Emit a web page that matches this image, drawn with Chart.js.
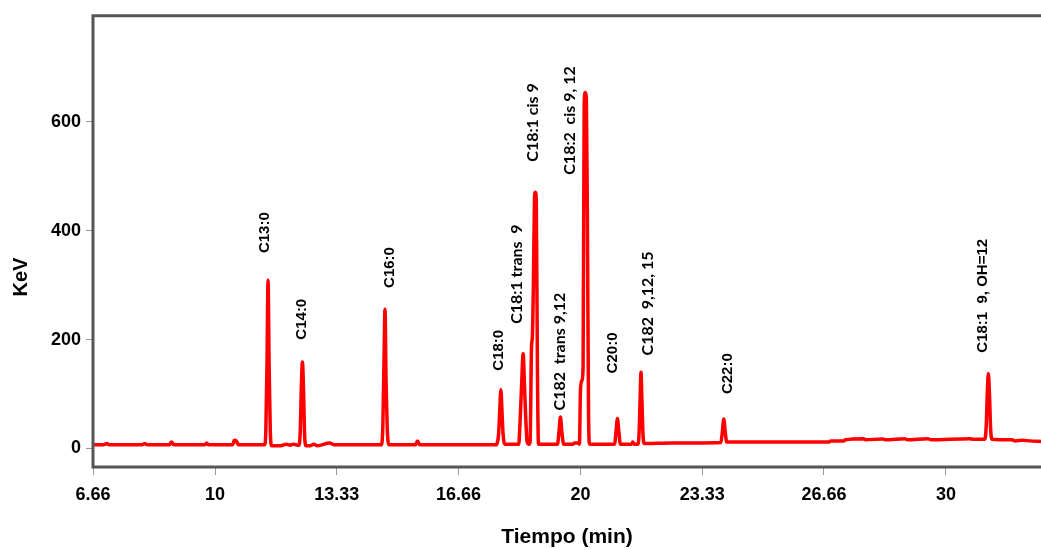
<!DOCTYPE html>
<html>
<head>
<meta charset="utf-8">
<title>Cromatograma</title>
<script src="https://cdn.jsdelivr.net/npm/chart.js@4/dist/chart.umd.min.js"></script>
<style>
    body { margin: 0; background: #fff; }
    #wrap { width: 1041px; height: 550px; }
</style>
</head>
<body>
<div id="wrap"><canvas id="cromatograma"></canvas></div>
<script>
// Retention time (min) and detector signal (KeV)
const tiempo = [
    6.66, 6.95, 7.04, 7.10, 8.00, 8.08, 8.14, 8.75, 8.81, 8.87,
    9.72, 9.77, 9.82, 10.48, 10.53, 10.58, 10.64,
    11.36, 11.39, 11.42, 11.45, 11.48, 11.51, 11.55,
    11.80, 11.95, 12.05, 12.15, 12.25,
    12.29, 12.33, 12.36, 12.39, 12.42, 12.45, 12.49,
    12.60, 12.70, 12.80, 13.14, 13.25, 14.50,
    14.55, 14.59, 14.62, 14.65, 14.68, 14.71, 14.75,
    15.48, 15.54, 15.60, 17.70,
    17.71, 17.76, 17.79, 17.82, 17.85, 17.88, 17.93,
    18.31, 18.34, 18.39, 18.43, 18.47, 18.50, 18.54, 18.59,
    18.62, 18.66, 18.68, 18.71, 18.74, 18.765, 18.79, 18.82, 18.85,
    19.37, 19.41, 19.45, 19.49, 19.54,
    19.80, 19.83, 19.93,
    19.97, 20.00, 20.04, 20.07, 20.10, 20.13, 20.16, 20.19, 20.22, 20.25,
    20.93, 20.97, 21.01, 21.05, 21.09,
    21.40, 21.43, 21.47,
    21.57, 21.60, 21.63, 21.655, 21.68, 21.71, 21.75,
    22.50, 23.84, 23.88, 23.92, 23.96, 24.00,
    24.80, 26.80, 26.85, 27.20, 27.25, 27.75, 27.80, 28.27, 28.35,
    28.87, 28.95, 29.50, 29.60, 30.65, 30.75,
    31.06, 31.10, 31.13, 31.16, 31.19, 31.22, 31.26,
    31.80, 31.90, 32.10, 32.30, 32.60
];
const senal = [
    7, 7, 9, 7, 7, 9, 7, 7, 12, 7,
    7, 10, 7, 7, 15, 14, 7,
    7, 35, 150, 309, 150, 35, 5,
    5, 8, 6, 8, 6,
    6, 30, 110, 159, 110, 25, 5,
    5, 8, 5, 10, 7, 7,
    7, 40, 150, 256, 120, 40, 7,
    7, 14, 7, 7,
    8, 28, 70, 108, 70, 28, 8,
    8, 40, 120, 174, 110, 58, 12, 8,
    12, 190, 202, 300, 460, 471, 455, 150, 8,
    8, 30, 58, 30, 8,
    8, 10, 10,
    8, 110, 125, 150, 630, 654, 645, 400, 60, 8,
    8, 30, 55, 30, 8,
    8, 12, 8,
    8, 25, 90, 140, 90, 25, 9,
    10, 11, 30, 54, 30, 12,
    12, 12, 14, 14, 16, 18, 16, 17.5, 16,
    18, 16, 18, 16, 18, 17,
    17, 40, 100, 138, 100, 38, 17,
    16, 14, 15, 14, 13
];

// Axis ticks
const xTicks = [6.66, 10, 13.33, 16.66, 20, 23.33, 26.66, 30];
const yTicks = [0, 200, 400, 600];

// Peak names and where their text starts (time, KeV)
const picos = [
    'C13:0', 'C14:0', 'C16:0', 'C18:0', 'C18:1 trans  9', 'C18:1 cis 9',
    'C182  trans 9,12', 'C18:2  cis 9, 12', 'C20:0', 'C182  9,12, 15',
    'C22:0', 'C18:1  9, OH=12'
];
const picoTiempo = [11.36, 12.37, 14.78, 17.77, 18.25, 18.70, 19.435, 19.71, 20.89, 21.85, 24.02, 31.01];
const picoKev = [359, 200, 295, 143, 229, 527, 70, 503, 138, 171, 100, 176];
// Calibri-looking labels in the original
const picoCalibri = [false, false, false, false, true, true, true, true, false, true, false, false];

const puntos = tiempo.map((t, i) => ({ x: t, y: senal[i] }));

// Frame, y title and peak labels
const extras = {
    id: 'extras',
    afterDatasetsDraw(chart) {
        const { ctx, chartArea: a, scales } = chart;
        ctx.save();

        // frame around the plot
        ctx.strokeStyle = '#555';
        ctx.lineWidth = 3;
        ctx.beginPath();
        ctx.moveTo(a.right, a.top);
        ctx.lineTo(a.left, a.top);
        ctx.lineTo(a.left, a.bottom);
        ctx.lineTo(a.right, a.bottom);
        ctx.stroke();

        // peak labels, rotated
        ctx.fillStyle = '#000';
        ctx.textBaseline = 'middle';
        ctx.textAlign = 'left';
        picos.forEach((nombre, i) => {
            const px = scales.x.getPixelForValue(picoTiempo[i]);
            const py = scales.y.getPixelForValue(picoKev[i]);
            ctx.font = picoCalibri[i] ? 'bold 16px Lato' : 'bold 15px "Liberation Sans"';
            ctx.save();
            ctx.translate(px, py);
            ctx.rotate(-Math.PI / 2);
            ctx.fillText(nombre, 0, 0);
            ctx.restore();
        });

        // y axis title
        ctx.font = 'bold 20px "Liberation Sans"';
        ctx.fillStyle = '#000';
        ctx.textAlign = 'center';
        ctx.translate(21, 277);
        ctx.rotate(-Math.PI / 2);
        ctx.fillText('KeV', 0, 0);
        ctx.restore();
    }
};

const ctx = document.getElementById('cromatograma').getContext('2d');

const cromatograma = new Chart(ctx, {
    type: 'line',
    data: {
        datasets: [{
            data: puntos,
            borderColor: '#ff0000',
            borderWidth: 3.5,
            pointRadius: 0,
            cubicInterpolationMode: 'monotone',
            fill: false
        }]
    },
    options: {
        responsive: true,
        maintainAspectRatio: false,
        animation: false,
        layout: { padding: { top: 13, right: 0, left: 0, bottom: 0 } },
        plugins: {
            legend: { display: false },
            tooltip: { enabled: false }
        },
        scales: {
            x: {
                type: 'linear',
                min: 6.66,
                max: 32.6,
                afterBuildTicks: (scale) => { scale.ticks = xTicks.map(v => ({ value: v })); },
                afterFit: (scale) => { scale.height = 83; },
                grid: { drawOnChartArea: false, drawTicks: true, tickLength: 8, tickColor: '#999' },
                border: { display: false },
                ticks: {
                    color: '#000',
                    padding: 9,
                    maxRotation: 0,
                    font: { family: 'Liberation Sans', size: 18, weight: 'bold' },
                    callback: (v) => String(v)
                },
                title: {
                    display: true,
                    text: 'Tiempo (min)',
                    color: '#000',
                    font: { family: 'Liberation Sans', size: 21, weight: 'bold' },
                    padding: { top: 0, bottom: 0 }
                }
            },
            y: {
                min: -34,
                max: 795,
                afterBuildTicks: (scale) => { scale.ticks = yTicks.map(v => ({ value: v })); },
                afterFit: (scale) => { scale.width = 93; },
                grid: { drawOnChartArea: false, drawTicks: true, tickLength: 7, tickColor: '#999' },
                border: { display: false },
                ticks: {
                    color: '#000',
                    padding: 5,
                    font: { family: 'Liberation Sans', size: 18, weight: 'bold' }
                }
            }
        }
    },
    plugins: [extras]
});
</script>
</body>
</html>
